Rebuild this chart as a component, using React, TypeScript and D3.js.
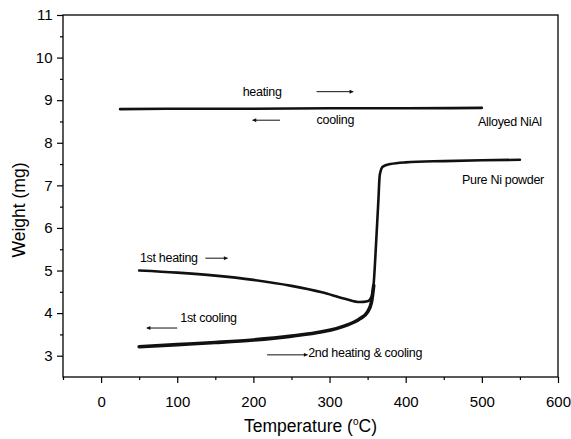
import React, { useRef, useEffect } from 'react';
import * as d3 from 'd3';

// Alloyed NiAl: flat on heating and cooling
const niAlTemp = [25, 100, 200, 300, 400, 500];
const niAlWeight = [8.79, 8.8, 8.8, 8.81, 8.81, 8.82];

// Pure Ni powder, 1st heating (runs up the step to the plateau)
const heatTemp = [50, 100, 150, 200, 250, 290, 320, 340, 350, 355, 358, 361, 364, 366, 370, 380, 400, 450, 500, 550];
const heatWeight = [5.0, 4.95, 4.88, 4.78, 4.64, 4.49, 4.34, 4.26, 4.28, 4.38, 4.7, 5.6, 6.6, 7.25, 7.44, 7.5, 7.54, 7.57, 7.59, 7.6];

// Pure Ni powder, 1st cooling / 2nd heating & cooling (lower branch)
const coolTemp = [50, 100, 150, 200, 250, 290, 320, 340, 350, 355, 358];
const coolWeight = [3.21, 3.26, 3.31, 3.37, 3.46, 3.56, 3.7, 3.87, 4.03, 4.25, 4.65];

const xTicks = [0, 100, 200, 300, 400, 500, 600];
const yTicks = [3, 4, 5, 6, 7, 8, 9, 10, 11];

const App = () => {
  const ref = useRef(null);

  useEffect(() => {
    const svg = d3.select(ref.current);
    svg.selectAll('*').remove();

    const width = 571;
    const height = 439;
    const margin = { top: 15, right: 13, bottom: 62, left: 63 };
    const font = 'Arial, "Liberation Sans", sans-serif';

    const x = d3.scaleLinear().domain([-50, 600]).range([margin.left, width - margin.right]);
    const y = d3.scaleLinear().domain([2.5, 11]).range([height - margin.bottom, margin.top]);

    svg.append('rect').attr('width', width).attr('height', height).attr('fill', '#fff');

    const defs = svg.append('defs');
    defs.append('marker')
      .attr('id', 'head')
      .attr('viewBox', '0 0 10 10')
      .attr('refX', 9)
      .attr('refY', 5)
      .attr('markerWidth', 6)
      .attr('markerHeight', 4)
      .attr('markerUnits', 'userSpaceOnUse')
      .attr('orient', 'auto')
      .append('path')
      .attr('d', 'M0,0 L10,5 L0,10 Z')
      .attr('fill', '#111');

    // frame
    svg.append('rect')
      .attr('x', x(-50)).attr('y', y(11))
      .attr('width', x(600) - x(-50)).attr('height', y(2.5) - y(11))
      .attr('fill', 'none').attr('stroke', '#000').attr('stroke-width', 1.3);

    // x axis
    const xAxis = svg.append('g')
      .attr('transform', `translate(0,${y(2.5)})`)
      .call(d3.axisBottom(x).tickValues(xTicks).tickSize(6).tickFormat(d3.format('d')));
    xAxis.select('.domain').remove();
    xAxis.selectAll('text').attr('font-size', 15).attr('font-family', font).attr('dy', '1.4em');
    svg.append('g')
      .attr('transform', `translate(0,${y(2.5)})`)
      .call(d3.axisBottom(x).tickValues(d3.range(-50, 600, 100)).tickSize(3).tickFormat(() => ''))
      .select('.domain').remove();

    // y axis
    const yAxis = svg.append('g')
      .attr('transform', `translate(${x(-50)},0)`)
      .call(d3.axisLeft(y).tickValues(yTicks).tickSize(6));
    yAxis.select('.domain').remove();
    yAxis.selectAll('text').attr('font-size', 15).attr('font-family', font).attr('dx', '-0.1em');
    svg.append('g')
      .attr('transform', `translate(${x(-50)},0)`)
      .call(d3.axisLeft(y).tickValues(d3.range(3.5, 11, 1)).tickSize(3).tickFormat(() => ''))
      .select('.domain').remove();

    svg.selectAll('.tick line').attr('stroke', '#000').attr('stroke-width', 1.2);

    // axis titles
    const xt = svg.append('text')
      .attr('x', (x(-50) + x(600)) / 2)
      .attr('y', height - 7)
      .attr('text-anchor', 'middle')
      .attr('font-size', 17.5)
      .attr('font-family', font);
    xt.append('tspan').text('Temperature (');
    xt.append('tspan').text('o').attr('font-size', 10).attr('dy', -7);
    xt.append('tspan').text('C)').attr('dy', 7);

    svg.append('text')
      .attr('transform', `translate(25,${(y(2.5) + y(11)) / 2 + 14}) rotate(-90)`)
      .attr('text-anchor', 'middle')
      .attr('font-size', 17.5)
      .attr('font-family', font)
      .text('Weight (mg)');

    // curves
    const line = d3.line().x(d => x(d[0])).y(d => y(d[1])).curve(d3.curveMonotoneX);
    const series = [
      { t: niAlTemp, w: niAlWeight, sw: 2.6 },
      { t: heatTemp, w: heatWeight, sw: 2.6 },
      { t: coolTemp, w: coolWeight, sw: 3.6 },
    ];
    series.forEach(s => {
      svg.append('path')
        .datum(s.t.map((t, i) => [t, s.w[i]]))
        .attr('d', line)
        .attr('fill', 'none')
        .attr('stroke', '#111')
        .attr('stroke-width', s.sw)
        .attr('stroke-linecap', 'round')
        .attr('stroke-linejoin', 'round');
    });

    // annotations
    const labels = [
      { t: 'heating', x: 186, y: 9.1 },
      { t: 'cooling', x: 283, y: 8.44 },
      { t: 'Alloyed NiAl', x: 495, y: 8.39 },
      { t: 'Pure Ni powder', x: 474, y: 7.03 },
      { t: '1st heating', x: 51, y: 5.2 },
      { t: '1st cooling', x: 104, y: 3.79 },
      { t: '2nd heating & cooling', x: 272, y: 2.97 },
    ];
    svg.append('g')
      .selectAll('text')
      .data(labels)
      .enter()
      .append('text')
      .attr('x', d => x(d.x))
      .attr('y', d => y(d.y))
      .attr('font-size', 12.5)
      .attr('letter-spacing', -0.3)
      .attr('font-family', font)
      .text(d => d.t);

    const arrows = [
      { x1: 283, x2: 331, y: 9.2 },
      { x1: 235, x2: 199, y: 8.53 },
      { x1: 137, x2: 166, y: 5.29 },
      { x1: 100, x2: 60, y: 3.65 },
      { x1: 218, x2: 271, y: 3.02 },
    ];
    svg.append('g')
      .selectAll('line')
      .data(arrows)
      .enter()
      .append('line')
      .attr('x1', d => x(d.x1))
      .attr('x2', d => x(d.x2))
      .attr('y1', d => y(d.y))
      .attr('y2', d => y(d.y))
      .attr('stroke', '#111')
      .attr('stroke-width', 1)
      .attr('marker-end', 'url(#head)');
  }, []);

  return (
    <svg
      ref={ref}
      width={571}
      height={439}
      style={{ position: 'absolute', left: 0, top: 0, display: 'block' }}
    ></svg>
  );
};

export default App;
